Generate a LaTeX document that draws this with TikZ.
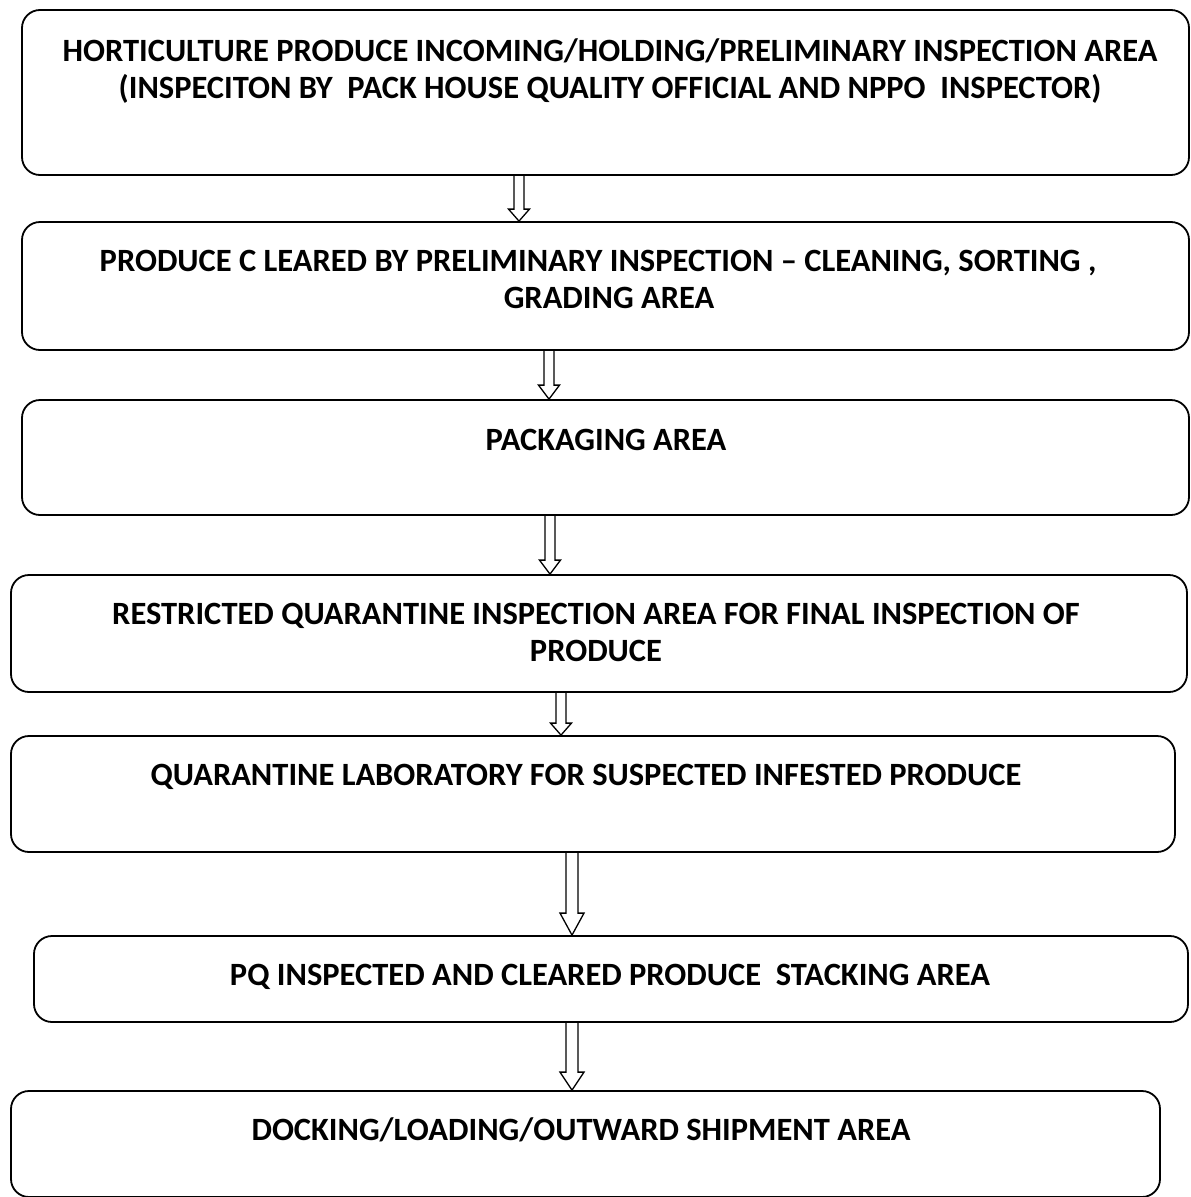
\documentclass[tikz,border=0pt]{standalone}
\usepackage{fontspec}
\setmainfont{Carlito}
\usetikzlibrary{calc}
% #1 from node, #2 to node, #3 x coordinate, #4 shaft half width, #5 head half width, #6 head length
\newcommand\hollowarrow[6]{%
  \coordinate (s#3) at (#1.south -| #3);
  \coordinate (e#3) at (#2.north -| #3);
  \draw[arrowline] ($(s#3)+(-#4,0)$) -- ($(e#3)+(-#4,-#6)$) -- ($(e#3)+(-#5,-#6)$) -- (e#3)
    -- ($(e#3)+(#5,-#6)$) -- ($(e#3)+(#4,-#6)$) -- ($(s#3)+(#4,0)$);}
\begin{document}
\begin{tikzpicture}[x=1pt,y=-1pt,
  box/.style={draw, line width=1.8pt, rounded corners=18pt, rectangle, inner sep=0pt},
  lbl/.style={font=\bfseries\fontsize{32.5}{37}\selectfont, align=center, anchor=north, inner sep=0pt},
  arrowline/.style={draw, line width=1.3pt, line join=miter}]
\useasboundingbox (0,0) rectangle (1191,1197);
\node[box, minimum width=1167pt, minimum height=165pt] (b1) at (605.5,92.5) {};
\node[box, minimum width=1167pt, minimum height=128pt] (b2) at (605.5,286) {};
\node[box, minimum width=1167pt, minimum height=115pt] (b3) at (605.5,457.5) {};
\node[box, minimum width=1176pt, minimum height=117pt] (b4) at (599,633.5) {};
\node[box, minimum width=1164pt, minimum height=116pt] (b5) at (593,794) {};
\node[box, minimum width=1154pt, minimum height=86pt] (b6) at (611,979) {};
\node[box, minimum width=1149pt, minimum height=106pt] (b7) at (585.5,1144) {};
\node[lbl] (t1) at (610,35) {\strut HORTICULTURE PRODUCE INCOMING/HOLDING/PRELIMINARY INSPECTION AREA\\(INSPECITON BY\ \ PACK HOUSE QUALITY OFFICIAL AND NPPO\ \ INSPECTOR)};
\node[lbl] (t2) at (598,245) {\strut PRODUCE C LEARED BY PRELIMINARY INSPECTION -- CLEANING, SORTING ,\\\hspace*{22pt}GRADING AREA};
\node[lbl] (t3) at (606,424) {\strut PACKAGING AREA};
\node[lbl] (t4) at (596,598) {\strut RESTRICTED QUARANTINE INSPECTION AREA FOR FINAL INSPECTION OF\\PRODUCE};
\node[lbl] (t5) at (586,759) {\strut QUARANTINE LABORATORY FOR SUSPECTED INFESTED PRODUCE};
\node[lbl] (t6) at (610,959) {\strut PQ INSPECTED AND CLEARED PRODUCE\ \ STACKING AREA};
\node[lbl] (t7) at (581,1114) {\strut DOCKING/LOADING/OUTWARD SHIPMENT AREA};
\coordinate (xa) at (519,0);
\coordinate (xb) at (549,0);
\coordinate (xc) at (550,0);
\coordinate (xd) at (561,0);
\coordinate (xe) at (572,0);
\coordinate (xf) at (572,0);
\hollowarrow{b1}{b2}{xa}{5}{10.5}{12}
\hollowarrow{b2}{b3}{xb}{5}{10.5}{14}
\hollowarrow{b3}{b4}{xc}{5}{10.5}{14}
\hollowarrow{b4}{b5}{xd}{5}{10.5}{12}
\hollowarrow{b5}{b6}{xe}{6}{12}{22}
\hollowarrow{b6}{b7}{xf}{6}{12}{18}
\end{tikzpicture}
\end{document}
